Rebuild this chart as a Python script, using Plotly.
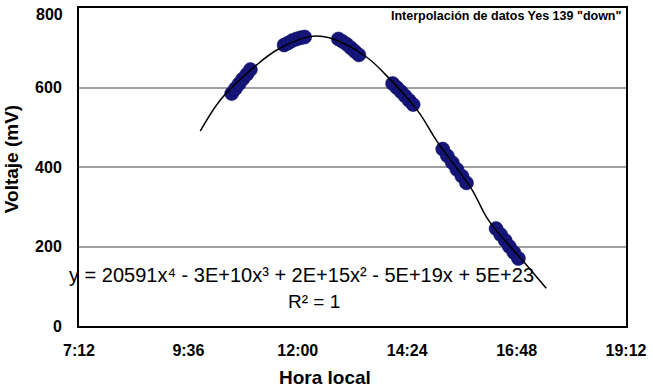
import plotly.graph_objects as go

# ---- data (hours of local time, millivolts) ----
obs_hours = [10.55, 10.63, 10.71, 10.79, 10.88, 10.96,
             11.70, 11.79, 11.88, 11.97, 12.06, 12.15,
             12.89, 12.98, 13.07, 13.16, 13.25, 13.34,
             14.08, 14.17, 14.26, 14.35, 14.44, 14.53,
             15.18, 15.28, 15.39, 15.49, 15.60, 15.70,
             16.35, 16.45, 16.55, 16.64, 16.74, 16.84]
obs_mv = [585, 597, 609, 621, 633, 645,
          707, 712, 718, 722, 725, 727,
          722, 716, 709, 700, 691, 682,
          610, 600, 590, 579, 568, 557,
          445, 428, 411, 394, 377, 360,
          245, 230, 215, 200, 185, 170]

trend_hours = [9.86, 10.31, 11.11, 11.55, 12.26, 12.69, 13.49, 13.92,
               14.64, 15.05, 15.81, 16.19, 16.99, 17.45]
trend_mv = [490, 570, 658, 695, 728, 725, 678, 633,
            540, 465, 345, 265, 157, 95]

x_tickvals = [7.2, 9.6, 12.0, 14.4, 16.8, 19.2]
x_ticktext = ["7:12", "9:36", "12:00", "14:24", "16:48", "19:12"]
y_tickvals = [0, 200, 400, 600]
y_top_label = "800"

title_text = 'Interpolación de datos Yes 139 "down"'
equation_text = "y = 20591x⁴ - 3E+10x³ + 2E+15x² - 5E+19x + 5E+23"
r2_text = "R² = 1"
x_title = "Hora local"
y_title = "Voltaje (mV)"

FONT = "Liberation Sans, Arial, sans-serif"

fig = go.Figure()
fig.add_trace(go.Scatter(
    x=obs_hours, y=obs_mv, mode="markers",
    marker=dict(size=14, color="#15157a", line=dict(color="#0c0c5e", width=0.6)),
    showlegend=False,
))
fig.add_trace(go.Scatter(
    x=trend_hours, y=trend_mv, mode="lines",
    line=dict(color="black", width=1.5, shape="spline"),
    showlegend=False,
))

fig.update_layout(
    width=653, height=389,
    margin=dict(l=79, r=19, t=6, b=63),
    paper_bgcolor="white", plot_bgcolor="white",
    font=dict(family=FONT, color="black"),
    xaxis=dict(
        range=[7.2, 19.2], tickvals=x_tickvals, ticktext=x_ticktext,
        showgrid=False, zeroline=False, ticks="",
        showline=True, linecolor="black", linewidth=2, mirror=True,
        tickfont=dict(size=16, family=FONT, weight="bold"),
        ticklabelstandoff=9, ticklabeloverflow="allow",
    ),
    yaxis=dict(
        range=[0, 800], tickvals=y_tickvals,
        showgrid=True, gridcolor="#a0a0a0", gridwidth=1.5, zeroline=False, ticks="",
        showline=True, linecolor="black", linewidth=2, mirror=True,
        tickfont=dict(size=16, family=FONT, weight="bold"),
        ticklabelstandoff=12, ticklabeloverflow="allow",
    ),
    annotations=[
        dict(text="<b>" + y_top_label + "</b>", xref="paper", yref="paper",
             x=-0.025, y=0.98, xanchor="right", yanchor="middle",
             showarrow=False, font=dict(size=16)),
        dict(text="<b>" + x_title + "</b>", xref="paper", yref="paper",
             x=0.45, y=-0.1625, xanchor="center", yanchor="middle",
             showarrow=False, font=dict(size=19)),
        dict(text="<b>" + y_title + "</b>", xref="paper", yref="paper",
             x=-0.124, y=0.525, xanchor="center", yanchor="middle",
             textangle=-90, showarrow=False, font=dict(size=19)),
        dict(text="<b>" + title_text + "</b>", xref="paper", yref="paper",
             x=0.997, y=0.975, xanchor="right", yanchor="middle",
             showarrow=False, font=dict(size=12.5)),
        dict(text=equation_text, xref="paper", yref="paper",
             x=0.406, y=0.159, xanchor="center", yanchor="middle",
             showarrow=False, font=dict(size=20)),
        dict(text=r2_text, xref="paper", yref="paper",
             x=0.43, y=0.078, xanchor="center", yanchor="middle",
             showarrow=False, font=dict(size=19)),
    ],
)

fig.write_html("out.html", config={"displayModeBar": False},
               post_script="document.body.style.margin='0';")
